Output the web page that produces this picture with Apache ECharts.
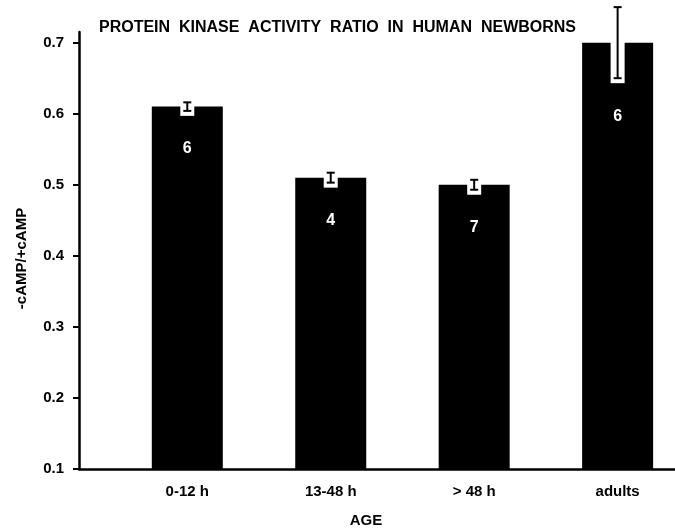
<!DOCTYPE html>
<html>
<head>
<meta charset="utf-8">
<script src="https://cdn.jsdelivr.net/npm/echarts@6/dist/echarts.min.js"></script>
<style>
  html, body { margin: 0; padding: 0; background: #fff; }
  #chart { width: 675px; height: 528px; }
</style>
</head>
<body>
<div id="chart"></div>
<script>
// Age groups and measured -cAMP/+cAMP activity ratios
var categories = ['0-12 h', '13-48 h', '> 48 h', 'adults'];
var ratioMeans = [0.61, 0.51, 0.50, 0.70];
var ratioErrors = [0.006, 0.007, 0.007, 0.05];
var sampleCounts = [6, 4, 7, 6];
var yTicks = [0.1, 0.2, 0.3, 0.4, 0.5, 0.6, 0.7];

var FONT = 'Liberation Sans';
var chart = echarts.init(document.getElementById('chart'), null, { renderer: 'canvas' });

var barData = ratioMeans.map(function (v, i) { return [i, v]; });
var errData = ratioMeans.map(function (v, i) { return [i, v, ratioErrors[i], sampleCounts[i]]; });

// White notch cut into the bar top, the black error bar inside it, and the n label
function renderErr(params, api) {
  var i = api.value(0), mean = api.value(1), err = api.value(2), n = api.value(3);
  var top = api.coord([i, mean]);
  var hi = api.coord([i, mean + err]);
  var lo = api.coord([i, mean - err]);
  var cx = top[0];
  var notchW = 14, capW = 8;
  var notchBottom = lo[1] + 5;
  return {
    type: 'group',
    children: [
      { type: 'rect', shape: { x: cx - notchW / 2, y: top[1] - 1, width: notchW, height: notchBottom - top[1] + 1 },
        style: { fill: '#fff' } },
      { type: 'line', shape: { x1: cx, y1: hi[1], x2: cx, y2: lo[1] }, style: { stroke: '#000', lineWidth: 2 } },
      { type: 'line', shape: { x1: cx - capW / 2, y1: hi[1], x2: cx + capW / 2, y2: hi[1] }, style: { stroke: '#000', lineWidth: 2 } },
      { type: 'line', shape: { x1: cx - capW / 2, y1: lo[1], x2: cx + capW / 2, y2: lo[1] }, style: { stroke: '#000', lineWidth: 2 } },
      { type: 'text', style: { x: cx, y: notchBottom + 33, text: String(n), fill: '#fff',
          font: 'bold 16px "' + FONT + '"', align: 'center', verticalAlign: 'middle' } }
    ]
  };
}

chart.setOption({
  animation: false,
  backgroundColor: '#fff',
  title: {
    text: 'PROTEIN  KINASE  ACTIVITY  RATIO  IN  HUMAN  NEWBORNS',
    left: 'center',
    top: 15,
    textStyle: { fontFamily: FONT, fontWeight: 'bold', fontSize: 16, color: '#000' }
  },
  grid: { left: 79, right: 0, top: 32, bottom: 59, containLabel: false, outerBoundsMode: 'none' },
  xAxis: {
    type: 'value',
    min: -0.755,
    max: 3.40,
    name: 'AGE',
    nameLocation: 'middle',
    nameGap: 44,
    nameTextStyle: { fontFamily: FONT, fontWeight: 'bold', fontSize: 15, color: '#000', padding: [0, 22, 0, 0] },
    axisLine: { show: true, onZero: false, lineStyle: { color: '#000', width: 2.5 } },
    axisTick: { show: false },
    splitLine: { show: false },
    axisLabel: {
      customValues: [0, 1, 2, 3],
      formatter: function (v) { return categories[Math.round(v)]; },
      margin: 15,
      fontFamily: FONT, fontWeight: 'bold', fontSize: 15, color: '#000'
    }
  },
  yAxis: {
    type: 'value',
    min: 0.1,
    max: 0.715,
    name: '-cAMP/+cAMP',
    nameLocation: 'middle',
    nameRotate: 90,
    nameGap: 50,
    nameTextStyle: { fontFamily: FONT, fontWeight: 'bold', fontSize: 15, color: '#000', padding: [0, 16, 0, 0] },
    axisLine: { show: true, onZero: false, lineStyle: { color: '#000', width: 2.5 } },
    axisTick: { show: true, customValues: yTicks, length: 6, lineStyle: { color: '#000', width: 2 } },
    splitLine: { show: false },
    axisLabel: {
      customValues: yTicks,
      formatter: function (v) { return v.toFixed(1); },
      margin: 15,
      fontFamily: FONT, fontWeight: 'bold', fontSize: 15, color: '#000'
    }
  },
  series: [
    {
      type: 'bar',
      data: barData,
      barWidth: 71,
      itemStyle: { color: '#000' },
      z: 2
    },
    {
      type: 'custom',
      data: errData,
      renderItem: renderErr,
      clip: false,
      z: 5
    }
  ]
});
</script>
</body>
</html>
